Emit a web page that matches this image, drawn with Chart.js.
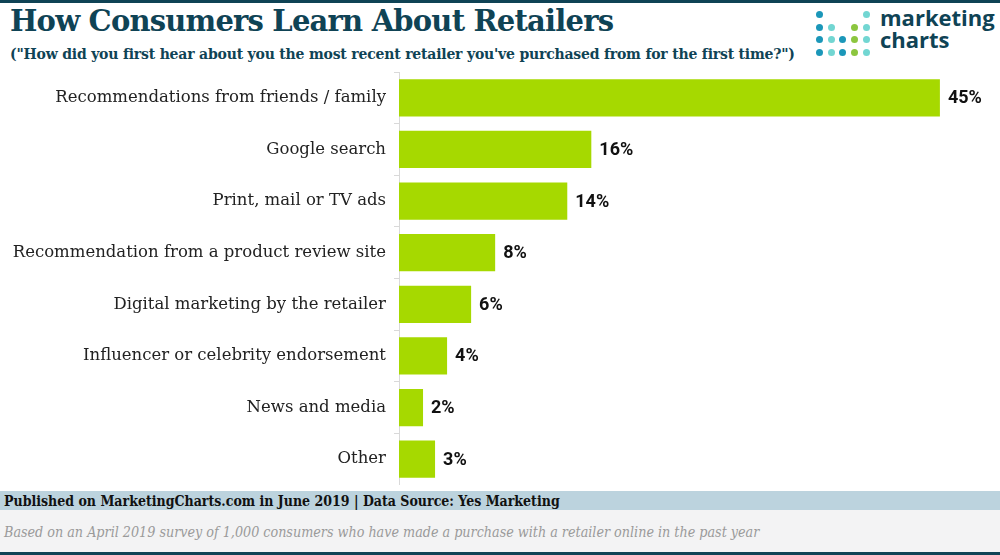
<!DOCTYPE html>
<html>
<head>
<meta charset="utf-8">
<script src="https://cdn.jsdelivr.net/npm/chart.js@4"></script>
<style>
  body { margin: 0; width: 1000px; height: 555px; background: #fff; position: relative; overflow: hidden; font-family: "DejaVu Serif", serif; }
  #topline { position: absolute; left: 0; top: 0; width: 1000px; height: 3px; background: #0f4355; }
  #title { position: absolute; left: 10px; top: 4px; font-size: 29px; font-weight: bold; color: #0f4355; white-space: nowrap; letter-spacing: -0.8px; }
  #subtitle { position: absolute; left: 10px; top: 46px; font-size: 14px; font-weight: bold; color: #0f4355; white-space: nowrap; letter-spacing: -0.2px; }
  #logo-text { position: absolute; left: 880px; top: 6px; font-family: "Open Sans", sans-serif; font-weight: bold; font-size: 22px; line-height: 22px; color: #0f4355; }
  .dot { position: absolute; width: 7px; height: 7px; border-radius: 50%; }
  #chart-wrap { position: absolute; left: 0; top: 72px; width: 1000px; height: 413px; }
  #pub { position: absolute; left: 0; top: 491px; width: 1000px; height: 19px; background: #bcd3de; }
  #pub span { position: absolute; left: 4px; top: 2px; font-family: "DejaVu Serif Condensed", serif; font-weight: bold; font-size: 14px; color: #111; white-space: nowrap; }
  #note { position: absolute; left: 0; top: 510px; width: 1000px; height: 42px; background: #f3f3f4; }
  #note span { position: absolute; left: 4px; top: 14px; font-family: "DejaVu Serif Condensed", serif; font-style: italic; font-size: 14.2px; color: #9a9a9a; white-space: nowrap; }
  #bottomline { position: absolute; left: 0; top: 552px; width: 1000px; height: 3px; background: #0f4355; }
</style>
</head>
<body>
<div id="topline"></div>
<div id="title">How Consumers Learn About Retailers</div>
<div id="subtitle">("How did you first hear about you the most recent retailer you've purchased from for the first time?")</div>
<div id="logo"></div>
<div id="logo-text">marketing<br>charts</div>
<div id="chart-wrap"><canvas id="chart"></canvas></div>
<div id="pub"><span>Published on MarketingCharts.com in June 2019 | Data Source: Yes Marketing</span></div>
<div id="note"><span>Based on an April 2019 survey of 1,000 consumers who have made a purchase with a retailer online in the past year</span></div>
<div id="bottomline"></div>
<script>
const categories = [
    'Recommendations from friends / family',
    'Google search',
    'Print, mail or TV ads',
    'Recommendation from a product review site',
    'Digital marketing by the retailer',
    'Influencer or celebrity endorsement',
    'News and media',
    'Other'
];
const values = [45, 16, 14, 8, 6, 4, 2, 3];

// logo dots: rows of [col, colour]
const dark = '#1b97b9', light = '#72d6d2', green = '#8cc63f';
const logoRows = [
    [[0, dark], [4, light]],
    [[0, dark], [1, light], [3, green], [4, light]],
    [[0, dark], [1, light], [2, dark], [3, green], [4, light]],
    [[0, dark], [1, light], [2, dark], [3, green], [4, light]]
];
const logo = document.getElementById('logo');
logoRows.forEach((row, r) => {
    row.forEach(([c, col]) => {
        const d = document.createElement('div');
        d.className = 'dot';
        d.style.left = (816 + c * 11.7) + 'px';
        d.style.top = (11 + r * 12.5) + 'px';
        d.style.background = col;
        logo.appendChild(d);
    });
});

const valueLabels = {
    id: 'valueLabels',
    afterDatasetsDraw(chart) {
        const ctx = chart.ctx;
        const meta = chart.getDatasetMeta(0);
        ctx.save();
        ctx.font = 'bold 18px Roboto, sans-serif';
        ctx.fillStyle = '#111';
        ctx.textBaseline = 'middle';
        meta.data.forEach((bar, i) => {
            ctx.fillText(values[i] + '%', bar.x + 8, bar.y + 1);
        });
        ctx.restore();
    }
};

new Chart(document.getElementById('chart').getContext('2d'), {
    type: 'bar',
    data: {
        labels: categories,
        datasets: [{
            data: values,
            backgroundColor: '#a6d900',
            borderWidth: 0,
            categoryPercentage: 1,
            barPercentage: 0.72
        }]
    },
    options: {
        indexAxis: 'y',
        responsive: true,
        maintainAspectRatio: false,
        animation: false,
        layout: { padding: 0 },
        plugins: { legend: { display: false }, tooltip: { enabled: false } },
        scales: {
            x: { display: false, min: 0, max: 50 },
            y: {
                afterFit(scale) {
                    scale.width = 399;
                    scale.paddingTop = 0;
                    scale.paddingBottom = 0;
                },
                border: { display: true, color: '#d9d9d9' },
                grid: { drawOnChartArea: false, color: '#d9d9d9', tickLength: 5 },
                ticks: { color: '#222', padding: 8, font: { family: 'DejaVu Serif', size: 16.5 } }
            }
        }
    },
    plugins: [valueLabels]
});
</script>
</body>
</html>
